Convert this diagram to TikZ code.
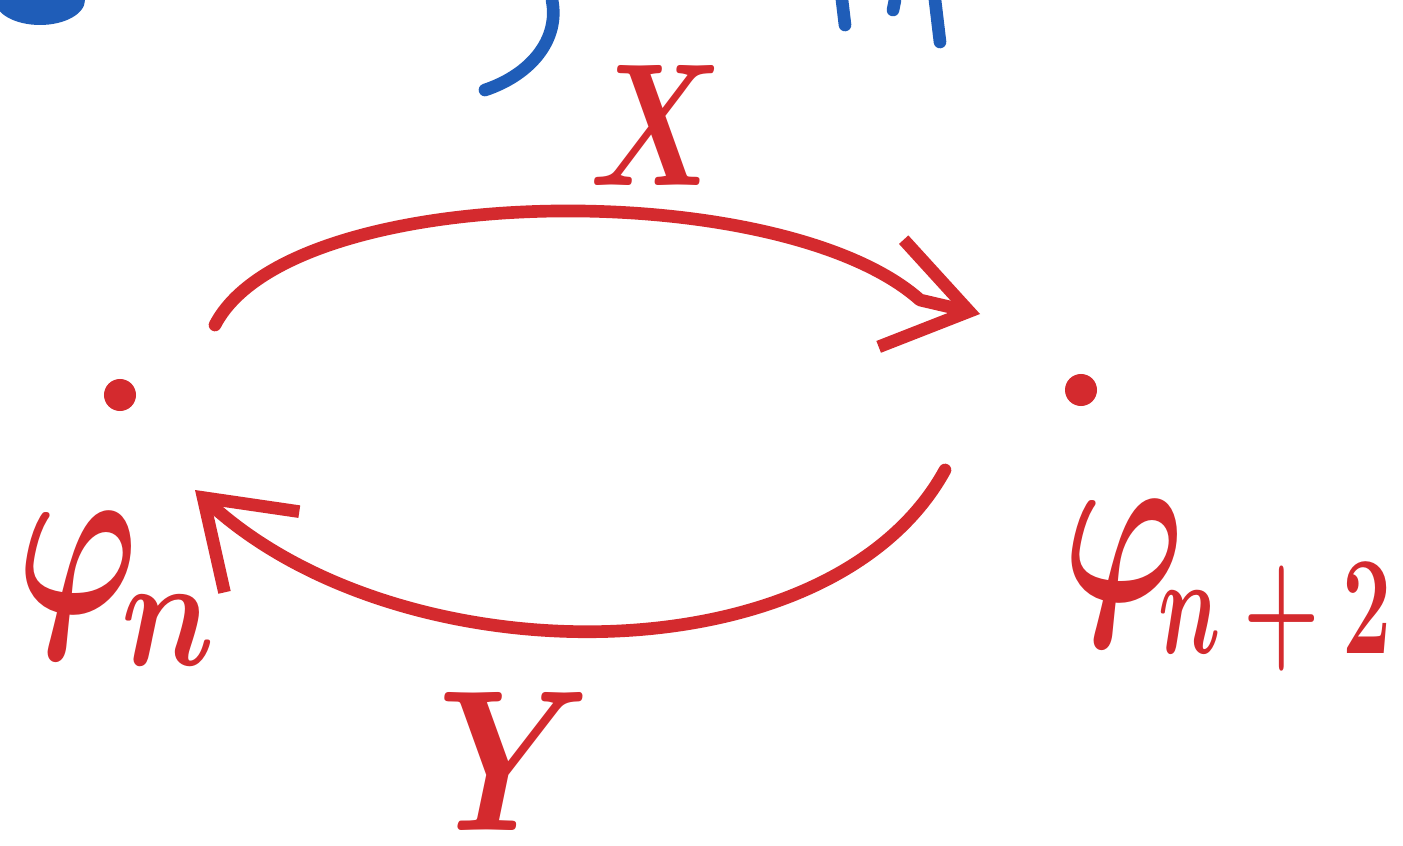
\documentclass[tikz,border=0pt]{standalone}
\usepackage{amsmath,amssymb}
\usepackage{graphicx}
\usepackage{xcolor}
\usetikzlibrary{arrows.meta,positioning}
\definecolor{penred}{HTML}{D42A2E}
\definecolor{penblue}{HTML}{1F5DB8}
\tikzset{
  stroke/.style={penred,line width=3.6pt,line cap=round,line join=round},
  ink/.style={penblue,line width=3.6pt,line cap=round},
  ar/.style={stroke,-{Straight Barb[length=8mm,width=11mm,line width=3.6pt]}},
  pt/.style={circle,fill=penred,minimum size=3.2mm,inner sep=0pt},
  lbl/.style={text=penred,inner sep=0pt,font=\Huge\boldmath}
}
\begin{document}
\begin{tikzpicture}[x=0.01cm,y=-0.01cm]
\useasboundingbox[fill=white] (0,0) rectangle (1403,846);
% the two points
\node[pt] (phin) at (120,395) {};
\node[pt] (phinn) at (1081,390) {};
% their names
\node[lbl] (phinsym) at (78,585) {\scalebox{1.85}[2.6]{$\varphi$}};
\node[lbl] (phinsub) at (168,630) {\scalebox{1.5}[1.8]{$n$}};
\node[lbl] (phinnsym) at (1124,573) {\scalebox{1.85}[2.6]{$\varphi$}};
\node[lbl] (phinnsub) at (1275,617) {\scalebox{1.0}[1.6]{$n+2$}};
% arcs
\coordinate (xs) at (215,325);
\coordinate (xe) at (980,314);
\coordinate (ys) at (945,470);
\coordinate (ye) at (195,490);
\draw[ar] (xs) .. controls (290,180) and (780,175) .. (920,300) -- (xe);
\draw[ar] (ys) .. controls (830,680) and (400,680) .. (ye);
\node[lbl] (xlbl) at (657,125) {\scalebox{1.5}[2]{$X$}};
\node[lbl,anchor=north] (ylbl) at (515,692) {\scalebox{1.9}[2.3]{$Y$}};
% bits of blue writing cut off at the top
\fill[penblue] (40,0) ellipse (45 and 25);
\draw[ink] (552,0) .. controls (560,40) and (530,75) .. (485,90);
\draw[ink] (842,0) -- (845,25);
\draw[ink] (895,0) -- (893,10);
\draw[ink] (935,0) -- (940,42);
\end{tikzpicture}
\end{document}
